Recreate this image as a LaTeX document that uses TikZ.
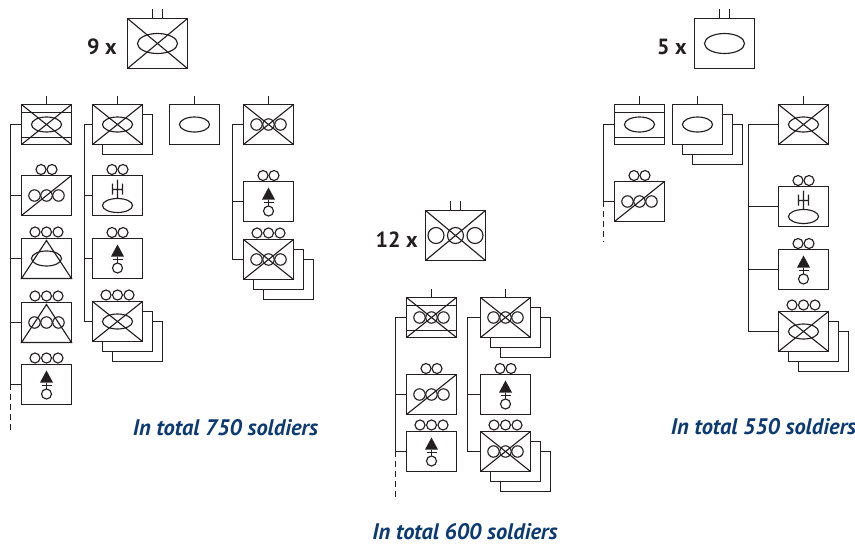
\documentclass[tikz,border=0pt]{standalone}
\usepackage{fontspec}
\setmainfont{PT Sans}
\usetikzlibrary{positioning,calc}
\definecolor{cLine}{HTML}{231F20}
\definecolor{cTotal}{HTML}{0B3A75}
\tikzset{
  unit/.style={draw=cLine, fill=white, line width=0.75pt, outer sep=0pt, inner sep=0pt,
               minimum width=1cm, minimum height=0.8cm},
  bigunit/.style={unit, minimum width=1.2cm, minimum height=1cm},
  sym/.style={draw=cLine, line width=0.65pt},
  lnk/.style={draw=cLine, line width=0.75pt},
  cut/.style={lnk, dash pattern=on 3.4pt off 2.2pt},
  count/.style={font=\fontsize{12.5}{12.5}\selectfont\bfseries, text=cLine, anchor=east, inner sep=0pt},
  total/.style={font=\fontsize{12.8}{12.8}\selectfont\bfseries\itshape, text=cTotal, inner sep=0pt},
}
% symbols inside a box, all taken from the box name
\newcommand{\symcross}[1]{\draw[sym] (#1.north west) -- (#1.south east) (#1.north east) -- (#1.south west);}
\newcommand{\symslash}[1]{\draw[sym] (#1.south west) -- (#1.north east);}
\newcommand{\symbars}[1]{\draw[sym] ($(#1.north west)+(0,8)$) -- ($(#1.north east)+(0,8)$)
  ($(#1.south west)+(0,-7)$) -- ($(#1.south east)+(0,-7)$);}
\newcommand{\symoval}[1]{\draw[sym] (#1.center) ellipse (15 and 7.5);}
\newcommand{\symthree}[1]{\foreach \dx in {-12,0,12} \draw[sym] ($(#1.center)+(\dx,0)$) circle (5.7);}
\newcommand{\symtri}[1]{\draw[sym] ($(#1.north)+(0,2)$) -- (#1.south west) -- (#1.south east) -- cycle;}
\newcommand{\symgun}[1]{\draw[sym] ($(#1.south)+(0,-10)$) ellipse (15 and 7)
  ($(#1.north)+(0,4)$) -- ($(#1.north)+(0,23)$)
  ($(#1.north)+(-5,14)$) -- ($(#1.north)+(5,14)$)
  ($(#1.north)+(-5,8)$) -- ($(#1.north)+(-5,19)$)
  ($(#1.north)+(5,8)$) -- ($(#1.north)+(5,19)$);}
\newcommand{\symarm}[1]{\fill[cLine] ($(#1.north)+(0,6)$) -- ($(#1.north)+(-6.5,18)$) -- ($(#1.north)+(6.5,18)$) -- cycle;
  \draw[sym] ($(#1.north)+(0,18)$) -- ($(#1.north)+(0,24.5)$)
  ($(#1.north)+(-5,21)$) -- ($(#1.north)+(5,21)$);
  \draw[sym] ($(#1.north)+(0,29.5)$) circle (5);}
\newcommand{\symtwo}[1]{\foreach \dx in {-5.5,5.5} \draw[sym] ($(#1.north)+(\dx,-6)$) circle (5);}
\newcommand{\symtre}[1]{\foreach \dx in {-11.5,0,11.5} \draw[sym] ($(#1.north)+(\dx,-6.5)$) circle (5);}
\begin{document}
\begin{tikzpicture}[x=0.02cm, y=-0.02cm]
  \useasboundingbox (0,0) rectangle (855,545);

  % --- left regiment ---
  \node[bigunit] (hqa) at (157.5,43.5) {};
  \symcross{hqa}
  \draw[lnk] ($(hqa.north)+(-5,0)$) -- ++(0,-10) ($(hqa.north)+(5,0)$) -- ++(0,-10);
  \draw[sym] (hqa.center) ellipse (20 and 10);
  \node[count] (cnta) at (117,47) {9 x};

  \node[unit] (a1) at (46.5,124.5) {};
  \node[unit] (a2) at (46.5,195.5) {};
  \node[unit] (a3) at (46.5,258.5) {};
  \node[unit] (a4) at (46.5,322.5) {};
  \node[unit] (a5) at (46.5,384.5) {};
  \symcross{a1} \symbars{a1} \symoval{a1}
  \symslash{a2} \symthree{a2} \symtwo{a2}
  \symtri{a3} \symoval{a3} \symtre{a3}
  \symtri{a4} \symthree{a4} \symtre{a4}
  \symarm{a5} \symtre{a5}
  \draw[lnk] (a1.north) -- ++(0,-9);
  \coordinate (ta) at (10.5,384.5);
  \coordinate (tae) at (10.5,433);
  \draw[lnk] (a1.west) -| (ta);
  \foreach \b in {a2,a3,a4,a5} \draw[lnk] (\b.west) -- (\b.west -| ta);
  \draw[cut] (ta) -- (tae);

  \node[unit] (b1s) at (127.5,134.5) {};
  \node[unit] (b1) at (117.5,124.5) {};
  \node[unit] (b2) at (117.5,195.5) {};
  \node[unit] (b3) at (117.5,258.5) {};
  \node[unit] (b4t) at (137.5,341.5) {};
  \node[unit] (b4s) at (127.5,331.5) {};
  \node[unit] (b4) at (117.5,321.5) {};
  \symcross{b1} \symoval{b1}
  \symgun{b2} \symtwo{b2}
  \symarm{b3} \symtwo{b3}
  \symcross{b4} \symoval{b4} \symtre{b4}
  \draw[lnk] (b1.north) -- ++(0,-9);
  \coordinate (tb) at (84.5,124.5);
  \draw[lnk] (b1.west) -- (tb) |- (b4.west);
  \foreach \b in {b2,b3} \draw[lnk] (\b.west) -- (\b.west -| tb);

  \node[unit] (c1) at (194.5,124.5) {};
  \symoval{c1}
  \draw[lnk] (c1.north) -- ++(0,-9);

  \node[unit] (d1) at (268.5,124.5) {};
  \node[unit] (d2) at (268.5,201.5) {};
  \node[unit] (d3t) at (288.5,279.5) {};
  \node[unit] (d3s) at (278.5,269.5) {};
  \node[unit] (d3) at (268.5,259.5) {};
  \symcross{d1} \symthree{d1}
  \symarm{d2} \symtwo{d2}
  \symcross{d3} \symthree{d3} \symtre{d3}
  \draw[lnk] (d1.north) -- ++(0,-9);
  \coordinate (td) at (232.5,124.5);
  \draw[lnk] (d1.west) -- (td) |- (d3.west);
  \draw[lnk] (d2.west) -- (d2.west -| td);

  \node[total] (tota) at (225.5,428) {In total 750 soldiers};

  % --- centre regiment ---
  \node[bigunit] (hqe) at (455.5,235.5) {};
  \symcross{hqe}
  \foreach \dx in {-19.5,0,19.5} \draw[sym] ($(hqe.center)+(\dx,0)$) circle (8);
  \draw[lnk] ($(hqe.north)+(-5,0)$) -- ++(0,-10) ($(hqe.north)+(5,0)$) -- ++(0,-10);
  \node[count] (cnte) at (418,240) {12 x};

  \node[unit] (e1) at (431.5,317.5) {};
  \node[unit] (e2) at (431.5,394.5) {};
  \node[unit] (e3) at (431.5,451.5) {};
  \symcross{e1} \symbars{e1} \symthree{e1}
  \symslash{e2} \symthree{e2} \symtwo{e2}
  \symarm{e3} \symtre{e3}
  \draw[lnk] (e1.north) -- ++(0,-9);
  \coordinate (te) at (395.5,451.5);
  \coordinate (tee) at (395.5,500);
  \draw[lnk] (e1.west) -| (te);
  \foreach \b in {e2,e3} \draw[lnk] (\b.west) -- (\b.west -| te);
  \draw[cut] (te) -- (tee);

  \node[unit] (f1t) at (525.5,337.5) {};
  \node[unit] (f1s) at (515.5,327.5) {};
  \node[unit] (f1) at (505.5,317.5) {};
  \node[unit] (f2) at (505.5,394.5) {};
  \node[unit] (f3t) at (525.5,471.5) {};
  \node[unit] (f3s) at (515.5,461.5) {};
  \node[unit] (f3) at (505.5,451.5) {};
  \symcross{f1} \symthree{f1}
  \symarm{f2} \symtwo{f2}
  \symcross{f3} \symthree{f3} \symtre{f3}
  \draw[lnk] (f1.north) -- ++(0,-9);
  \coordinate (tf) at (467.5,317.5);
  \draw[lnk] (f1.west) -- (tf) |- (f3.west);
  \draw[lnk] (f2.west) -- (f2.west -| tf);

  \node[total] (tote) at (465,532) {In total 600 soldiers};

  % --- right regiment ---
  \node[bigunit] (hqg) at (724.5,43.5) {};
  \draw[sym] (hqg.center) ellipse (20 and 10);
  \draw[lnk] ($(hqg.north)+(-5,0)$) -- ++(0,-10) ($(hqg.north)+(5,0)$) -- ++(0,-10);
  \node[count] (cntg) at (687,47) {5 x};

  \node[unit] (g1) at (639.5,124.5) {};
  \node[unit] (g2) at (639.5,201.5) {};
  \symbars{g1} \symoval{g1}
  \symslash{g2} \symthree{g2} \symtwo{g2}
  \draw[lnk] (g1.north) -- ++(0,-9);
  \coordinate (tg) at (603.5,201.5);
  \coordinate (tge) at (603.5,241);
  \draw[lnk] (g1.west) -| (tg) -- (g2.west);
  \draw[cut] (tg) -- (tge);

  \node[unit] (h1t) at (717.5,144.5) {};
  \node[unit] (h1s) at (707.5,134.5) {};
  \node[unit] (h1) at (697.5,124.5) {};
  \symoval{h1}
  \draw[lnk] (h1.north) -- ++(0,-9);

  \node[unit] (i1) at (803.5,124.5) {};
  \node[unit] (i2) at (803.5,206.5) {};
  \node[unit] (i3) at (803.5,269.5) {};
  \node[unit] (i4t) at (823.5,351.5) {};
  \node[unit] (i4s) at (813.5,341.5) {};
  \node[unit] (i4) at (803.5,331.5) {};
  \symcross{i1} \symoval{i1}
  \symgun{i2} \symtwo{i2}
  \symarm{i3} \symtwo{i3}
  \symcross{i4} \symoval{i4} \symtre{i4}
  \draw[lnk] (i1.north) -- ++(0,-9);
  \coordinate (ti) at (748.5,124.5);
  \draw[lnk] (i1.west) -- (ti) |- (i4.west);
  \foreach \b in {i2,i3} \draw[lnk] (\b.west) -- (\b.west -| ti);

  \node[total] (totg) at (763.5,427) {In total 550 soldiers};
\end{tikzpicture}
\end{document}
